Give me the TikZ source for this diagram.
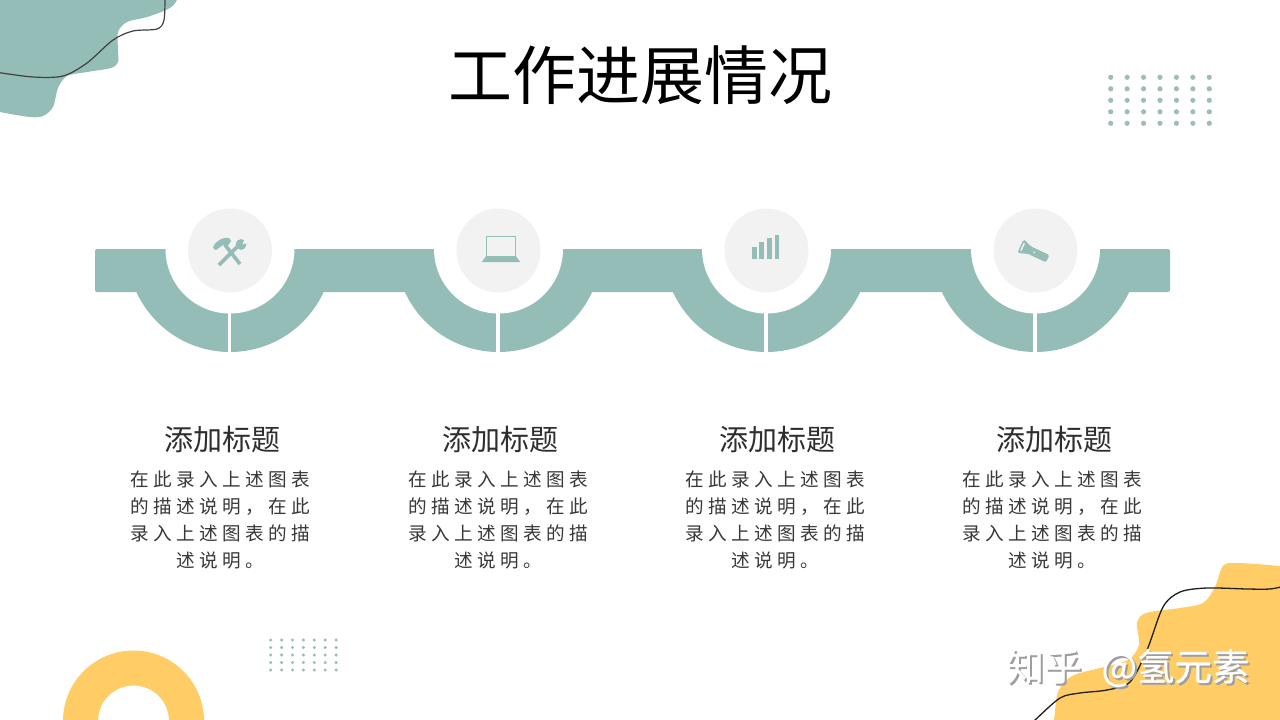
\documentclass[tikz,border=0pt]{standalone}
\usepackage{fontspec}
\setmainfont{Noto Sans CJK SC}
\newfontfamily\bodyfont[LetterSpace=24]{Noto Sans CJK SC}
\newfontfamily\markfont[FakeBold=0.6]{Noto Sans CJK SC}
\usetikzlibrary{calc}
\definecolor{teal}{HTML}{94BDB8}
\definecolor{sun}{HTML}{FFCC66}
\definecolor{disc}{HTML}{F2F2F2}
\definecolor{dots}{HTML}{9CBDB8}
\tikzset{
  x=1pt,y=-1pt,
  titletext/.style={font=\fontsize{64}{70}\selectfont,text=black,inner sep=0pt},
  headtext/.style={font=\fontsize{29}{34}\selectfont,text=black!82,inner sep=0pt},
  bodytext/.style={font=\bodyfont\fontsize{18.6}{27}\selectfont,text=black!78,align=center,inner sep=0pt},
  marktext/.style={font=\markfont\fontsize{37.5}{40}\selectfont,inner sep=0pt},
  icon/.style={fill=teal,draw=none},
}
\begin{document}
\begin{tikzpicture}
\useasboundingbox (0,0) rectangle (1280,720);
\fill[white] (0,0) rectangle (1280,720);
\clip (0,0) rectangle (1280,720);

% corner blobs
\fill[teal] plot[smooth cycle,tension=0.5] coordinates {
 (-30,-30) (190,-30) (177,0) (168,9) (147,17) (127,22) (118,32) (118,50) (118,62) (111,68)
 (87,72) (67,76) (58,88) (53,107) (43,116) (30,117) (0,112) (-30,105)};
\draw[black!75,line width=1.2pt] plot[smooth,tension=0.5] coordinates {
 (-5,72) (33,77) (63,76) (87,63) (113,40) (133,31) (157,29) (164,20) (165,-5)};

\fill[sun] plot[smooth cycle,tension=0.5] coordinates {
 (1050,740) (1054,720) (1058,692) (1072,676) (1100,668) (1128,660) (1139,645) (1137,623) (1146,613)
 (1180,608) (1203,603) (1215,587) (1223,566) (1237,563) (1280,566) (1310,570) (1310,740)};
\draw[black!88,line width=1.3pt] plot[smooth,tension=0.5] coordinates {
 (1028,726) (1035,720) (1060,698) (1080,693) (1107,690) (1130,682) (1147,650) (1163,607) (1180,592)
 (1207,588) (1247,589) (1270,589) (1285,586)};

% yellow ring
\fill[sun,even odd rule] (133.5,721) circle[radius=70.5] (133.5,721) circle[radius=35.5];

% dot grids
\foreach \i in {0,...,6} \foreach \j in {0,...,4}
  \fill[dots] ({1110.7+16.43*\i},{77.3+11.5*\j}) circle[radius=2.6];
\foreach \i in {0,...,6} \foreach \j in {0,...,4}
  \fill[dots] ({270.7+10.9*\i},{640+7.5*\j}) circle[radius=1.7];

% band
\fill[teal,rounded corners=2pt] (95,249) rectangle (1170,292);
\foreach \c in {230,498.5,766.5,1035.5}{
  \begin{scope}
    \clip (\c-110,249) rectangle (\c+110,360);
    \fill[teal] (\c,249) circle[radius=103];
  \end{scope}
  \fill[white] (\c,249) circle[radius=64.5];
  \fill[white] (\c-2.2,305) rectangle (\c+1.1,356);
  \fill[disc] (\c,250.5) circle[radius=42];
}

% hammer and wrench
\draw[teal,line width=3.6pt] (225,245) -- (240,264);
\fill[icon] (213,248) -- (214,245) .. controls (218,240) and (223,237) .. (229,238) -- (231,241) -- (227,247) -- (223,245) -- (216,250) -- cycle;
\draw[teal,line width=3.6pt] (219,265) -- (237,247);
\fill[icon] (241,244.5) circle[radius=5.4];
\fill[disc] (242.5,244.5) -- (245,237.5) -- (249.5,242) -- cycle;

% laptop
\draw[teal,line width=1.2pt] (486.3,236.5) rectangle (515.8,256.7);
\fill[icon] (485.7,256.7) -- (516.3,256.7) -- (520.3,262) -- (481.7,262) -- cycle;

% bars
\fill[icon] (752,247) rectangle (757,259);
\fill[icon] (759,242) rectangle (764,259);
\fill[icon] (766.7,238) rectangle (771.7,259);
\fill[icon] (775,235) rectangle (779,259);

% flashlight
\begin{scope}[shift={(1020.5,246)},rotate=-25]
  \fill[icon,rounded corners=1.5pt] (0,-7) -- (2,-7) -- (10,-4) -- (30,-4) -- (30,4) -- (10,4) -- (2,7) -- (0,7) -- cycle;
  \fill[disc] (1.5,-4) rectangle (3,4);
  \fill[disc] (15,0) circle[radius=1];
\end{scope}

% title
\node[titletext] (title) at (640,75) {工作进展情况};

% columns
\node[headtext] (h1) at (222,439) {添加标题};
\node[headtext] (h2) at (500,439) {添加标题};
\node[headtext] (h3) at (777,439) {添加标题};
\node[headtext] (h4) at (1054,439) {添加标题};
\node[bodytext] (b1) at (220.5,519.5) {在此录入上述图表\\的描述说明，在此\\录入上述图表的描\\述说明。};
\node[bodytext] (b2) at (498.5,519.5) {在此录入上述图表\\的描述说明，在此\\录入上述图表的描\\述说明。};
\node[bodytext] (b3) at (775.5,519.5) {在此录入上述图表\\的描述说明，在此\\录入上述图表的描\\述说明。};
\node[bodytext] (b4) at (1052.5,519.5) {在此录入上述图表\\的描述说明，在此\\录入上述图表的描\\述说明。};

% watermark
\node[marktext,text=black!38] (markshadow) at (1130,670) {知乎\hspace{20pt}@氢元素};
\node[marktext,text=white] (mark) at (1128,668) {知乎\hspace{20pt}@氢元素};
\end{tikzpicture}
\end{document}
